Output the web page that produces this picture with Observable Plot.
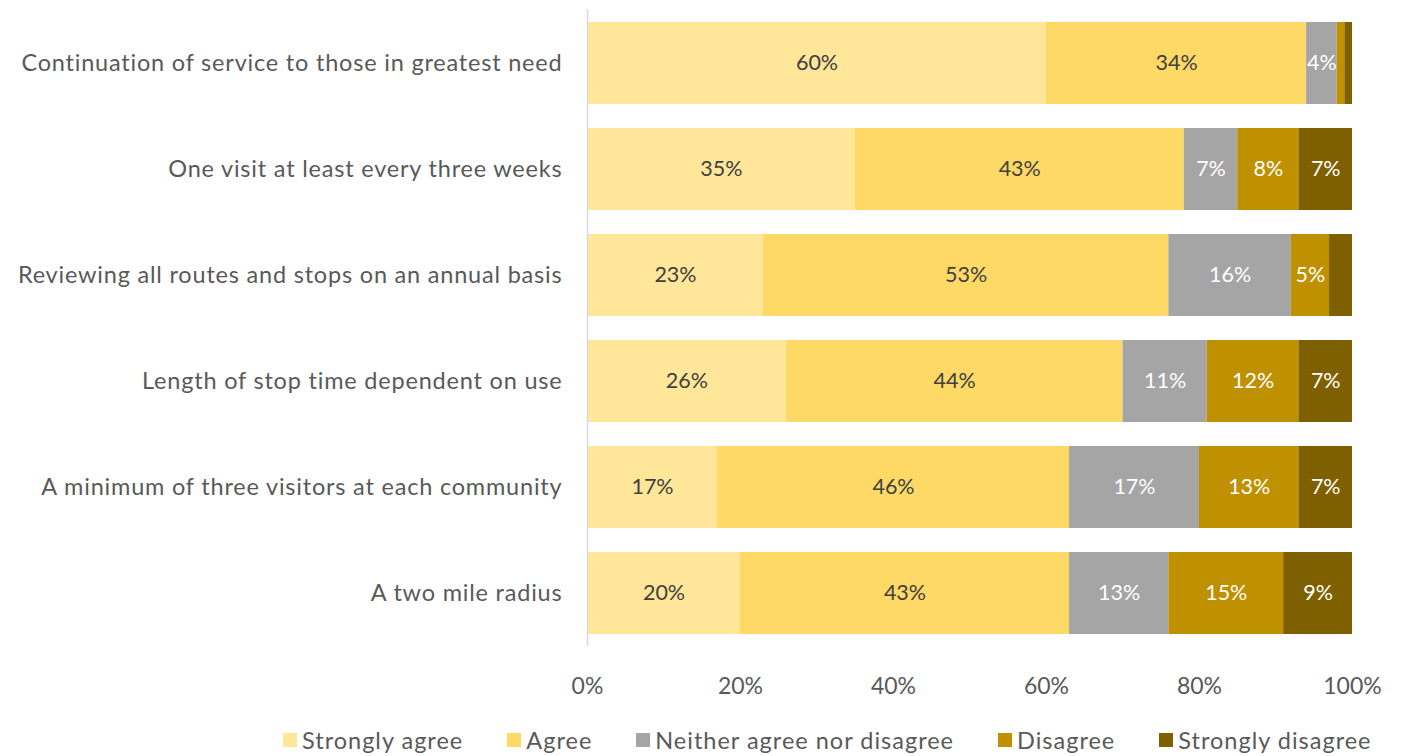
<!DOCTYPE html>
<html>
<head>
<meta charset="utf-8">
<script src="https://cdn.jsdelivr.net/npm/d3@7"></script>
<script src="https://cdn.jsdelivr.net/npm/@observablehq/plot@0.6"></script>
<style>
  html, body { margin: 0; padding: 0; background: #fff; }
  body { width: 1401px; height: 756px; overflow: hidden; font-family: Lato, "Open Sans", sans-serif; }
  #legend { display: flex; align-items: center; height: 34px; margin-top: 23px; font-size: 23.5px; letter-spacing: 1px; color: #595959; padding-left: 283px; box-sizing: border-box; justify-content: flex-start; }
  .item { display: flex; align-items: center; margin-right: 44px; white-space: nowrap; }
  .sw { width: 14px; height: 14px; margin-right: 5px; }
  .y-lab text { letter-spacing: 0.8px; }
</style>
</head>
<body>
<div id="chart"></div>
<div id="legend"></div>
<script>
const questions = [
  "Continuation of service to those in greatest need",
  "One visit at least every three weeks",
  "Reviewing all routes and stops on an annual basis",
  "Length of stop time dependent on use",
  "A minimum of three visitors at each community",
  "A two mile radius"
];
const responses = ["Strongly agree", "Agree", "Neither agree nor disagree", "Disagree", "Strongly disagree"];
const stronglyAgree    = [60, 35, 23, 26, 17, 20];
const agree            = [34, 43, 53, 44, 46, 43];
const neither          = [4, 7, 16, 11, 17, 13];
const disagree         = [1, 8, 5, 12, 13, 15];
const stronglyDisagree = [1, 7, 3, 7, 7, 9];
const colors = ["#FFE699", "#FFD966", "#A5A5A5", "#BF9000", "#7F6000"];
const textColors = ["#404040", "#404040", "#ffffff", "#ffffff", "#ffffff"];
const xTicks = [0, 20, 40, 60, 80, 100];

const series = [stronglyAgree, agree, neither, disagree, stronglyDisagree];
const data = [];
questions.forEach((q, i) => {
  responses.forEach((r, j) => {
    data.push({question: q, response: r, value: series[j][i], idx: j});
  });
});

const chart = Plot.plot({
  width: 1401,
  height: 700,
  marginLeft: 587,
  marginRight: 49,
  marginTop: 9,
  marginBottom: 54,
  style: {fontFamily: "Lato, 'Open Sans', sans-serif", fontSize: "21px", color: "#595959", background: "#fff"},
  x: {domain: [0, 100], ticks: xTicks, tickFormat: d => d + "%", label: null},
  y: {domain: questions, padding: 0.23, paddingOuter: 0.1, label: null},
  color: {domain: responses, range: colors},
  marks: [
    Plot.barX(data, Plot.stackX({x: "value", y: "question", z: "response", fill: "response", order: null})),
    Plot.ruleX([0], {stroke: "#d9d9d9", strokeWidth: 1.5}),
    Plot.text(data, Plot.stackX({
      x: "value", y: "question", z: "response", order: null,
      text: d => d.value >= 4 ? d.value + "%" : "",
      fill: d => textColors[d.idx],
      fontSize: 21.5
    })),
    Plot.axisY({tickSize: 0, tickPadding: 25, fontSize: 23.5, className: "y-lab", label: null}),
    Plot.axisX({ticks: xTicks, tickFormat: d => d + "%", tickSize: 0, tickPadding: 31, fontSize: 23, label: null})
  ]
});
document.getElementById("chart").appendChild(chart);

const legend = document.getElementById("legend");
responses.forEach((r, j) => {
  const item = document.createElement("div");
  item.className = "item";
  const sw = document.createElement("div");
  sw.className = "sw";
  sw.style.background = colors[j];
  const label = document.createElement("span");
  label.textContent = r;
  item.appendChild(sw);
  item.appendChild(label);
  legend.appendChild(item);
});
</script>
</body>
</html>
